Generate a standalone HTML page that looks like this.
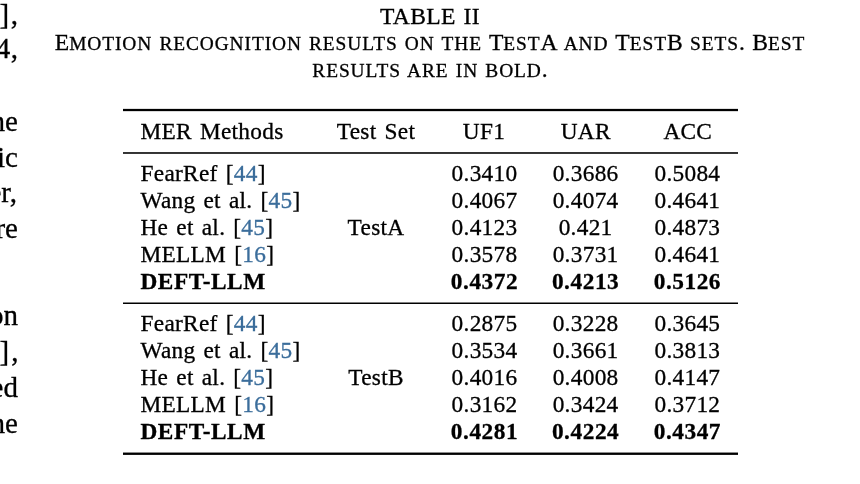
<!DOCTYPE html>
<html><head><meta charset="utf-8"><title>Table II</title>
<style>
html,body{margin:0;padding:0;background:#fff;}
body{width:860px;height:484px;position:relative;overflow:hidden;font-family:"Liberation Serif","Times New Roman",serif;color:#000;will-change:transform;-webkit-text-stroke:0.3px;}
.t{position:absolute;font-size:23.3px;line-height:23.3px;white-space:nowrap;word-spacing:1.9px;letter-spacing:0.3px;}
.b{font-weight:bold;letter-spacing:0.55px;}
.c{color:#3b6d9b;}
.r{position:absolute;left:123px;width:615px;background:#000;}
.cap{position:absolute;left:0;width:860px;text-align:center;font-size:23.6px;line-height:24px;white-space:nowrap;word-spacing:1.5px;}
.sc{font-size:19.4px;letter-spacing:0.9px;}
.l{position:absolute;font-size:29px;line-height:29px;white-space:nowrap;right:842px;text-align:right;}
</style></head><body>
<div class="cap" style="top:4px;letter-spacing:0.35px;">TABLE II</div>
<div class="cap" style="top:30px;">E<span class="sc">MOTION RECOGNITION RESULTS ON THE</span> T<span class="sc">EST</span>A <span class="sc">AND</span> T<span class="sc">EST</span>B <span class="sc">SETS</span>. B<span class="sc">EST</span></div>
<div class="cap" style="top:57px;"><span class="sc">RESULTS ARE IN BOLD</span>.</div>
<div class="r" style="top:108px;height:1px;background:rgba(0,0,0,0.12);"></div>
<div class="r" style="top:109px;height:1px;background:rgba(0,0,0,1);"></div>
<div class="r" style="top:110px;height:1px;background:rgba(0,0,0,1);"></div>
<div class="r" style="top:111px;height:1px;background:rgba(0,0,0,0.15);"></div>
<div class="r" style="top:152px;height:1px;background:rgba(0,0,0,0.8);"></div>
<div class="r" style="top:153px;height:1px;background:rgba(0,0,0,0.78);"></div>
<div class="r" style="top:302px;height:1px;background:rgba(0,0,0,0.5);"></div>
<div class="r" style="top:303px;height:1px;background:rgba(0,0,0,1);"></div>
<div class="r" style="top:452px;height:1px;background:rgba(0,0,0,0.45);"></div>
<div class="r" style="top:453px;height:1px;background:rgba(0,0,0,1);"></div>
<div class="r" style="top:454px;height:1px;background:rgba(0,0,0,0.9);"></div>
<div class="t " style="top:119.99px;left:140.5px;">MER Methods</div>
<div class="t " style="top:119.99px;left:226px;width:300px;text-align:center;">Test Set</div>
<div class="t " style="top:119.99px;left:334px;width:300px;text-align:center;">UF1</div>
<div class="t " style="top:119.99px;left:435.70000000000005px;width:300px;text-align:center;">UAR</div>
<div class="t " style="top:119.99px;left:537.8px;width:300px;text-align:center;">ACC</div>
<div class="t " style="top:162.49px;left:140.5px;">FearRef [<span class="c">44</span>]</div>
<div class="t " style="top:162.49px;left:334.5px;width:300px;text-align:center;">0.3410</div>
<div class="t " style="top:162.49px;left:435.6px;width:300px;text-align:center;">0.3686</div>
<div class="t " style="top:162.49px;left:537.4px;width:300px;text-align:center;">0.5084</div>
<div class="t " style="top:189.49px;left:140.5px;">Wang et al. [<span class="c">45</span>]</div>
<div class="t " style="top:189.49px;left:334.5px;width:300px;text-align:center;">0.4067</div>
<div class="t " style="top:189.49px;left:435.6px;width:300px;text-align:center;">0.4074</div>
<div class="t " style="top:189.49px;left:537.4px;width:300px;text-align:center;">0.4641</div>
<div class="t " style="top:216.49px;left:140.5px;">He et al. [<span class="c">45</span>]</div>
<div class="t " style="top:216.49px;left:334.5px;width:300px;text-align:center;">0.4123</div>
<div class="t " style="top:216.49px;left:435.6px;width:300px;text-align:center;">0.421</div>
<div class="t " style="top:216.49px;left:537.4px;width:300px;text-align:center;">0.4873</div>
<div class="t " style="top:243.49px;left:140.5px;">MELLM [<span class="c">16</span>]</div>
<div class="t " style="top:243.49px;left:334.5px;width:300px;text-align:center;">0.3578</div>
<div class="t " style="top:243.49px;left:435.6px;width:300px;text-align:center;">0.3731</div>
<div class="t " style="top:243.49px;left:537.4px;width:300px;text-align:center;">0.4641</div>
<div class="t  b" style="top:270.49px;left:140.5px;">DEFT-LLM</div>
<div class="t  b" style="top:270.49px;left:334.5px;width:300px;text-align:center;">0.4372</div>
<div class="t  b" style="top:270.49px;left:435.6px;width:300px;text-align:center;">0.4213</div>
<div class="t  b" style="top:270.49px;left:537.4px;width:300px;text-align:center;">0.5126</div>
<div class="t " style="top:216.49px;left:226px;width:300px;text-align:center;">TestA</div>
<div class="t " style="top:312.49px;left:140.5px;">FearRef [<span class="c">44</span>]</div>
<div class="t " style="top:312.49px;left:334.5px;width:300px;text-align:center;">0.2875</div>
<div class="t " style="top:312.49px;left:435.6px;width:300px;text-align:center;">0.3228</div>
<div class="t " style="top:312.49px;left:537.4px;width:300px;text-align:center;">0.3645</div>
<div class="t " style="top:339.49px;left:140.5px;">Wang et al. [<span class="c">45</span>]</div>
<div class="t " style="top:339.49px;left:334.5px;width:300px;text-align:center;">0.3534</div>
<div class="t " style="top:339.49px;left:435.6px;width:300px;text-align:center;">0.3661</div>
<div class="t " style="top:339.49px;left:537.4px;width:300px;text-align:center;">0.3813</div>
<div class="t " style="top:366.49px;left:140.5px;">He et al. [<span class="c">45</span>]</div>
<div class="t " style="top:366.49px;left:334.5px;width:300px;text-align:center;">0.4016</div>
<div class="t " style="top:366.49px;left:435.6px;width:300px;text-align:center;">0.4008</div>
<div class="t " style="top:366.49px;left:537.4px;width:300px;text-align:center;">0.4147</div>
<div class="t " style="top:393.49px;left:140.5px;">MELLM [<span class="c">16</span>]</div>
<div class="t " style="top:393.49px;left:334.5px;width:300px;text-align:center;">0.3162</div>
<div class="t " style="top:393.49px;left:435.6px;width:300px;text-align:center;">0.3424</div>
<div class="t " style="top:393.49px;left:537.4px;width:300px;text-align:center;">0.3712</div>
<div class="t  b" style="top:420.49px;left:140.5px;">DEFT-LLM</div>
<div class="t  b" style="top:420.49px;left:334.5px;width:300px;text-align:center;">0.4281</div>
<div class="t  b" style="top:420.49px;left:435.6px;width:300px;text-align:center;">0.4224</div>
<div class="t  b" style="top:420.49px;left:537.4px;width:300px;text-align:center;">0.4347</div>
<div class="t " style="top:366.49px;left:226px;width:300px;text-align:center;">TestB</div>
<div class="l" style="top:0px;"><span style="letter-spacing:1.6px">]</span>,</div>
<div class="l" style="top:33.8px;"><span style="letter-spacing:0.5px">4</span>,</div>
<div class="l" style="top:107px;">the</div>
<div class="l" style="top:142.5px;">tic</div>
<div class="l" style="top:178px;right:843px;">er,</div>
<div class="l" style="top:213.7px;">are</div>
<div class="l" style="top:301px;">ion</div>
<div class="l" style="top:337px;right:841.5px;"><span style="letter-spacing:2.2px">]</span>,</div>
<div class="l" style="top:373px;">sed</div>
<div class="l" style="top:408.6px;">the</div>
</body></html>
